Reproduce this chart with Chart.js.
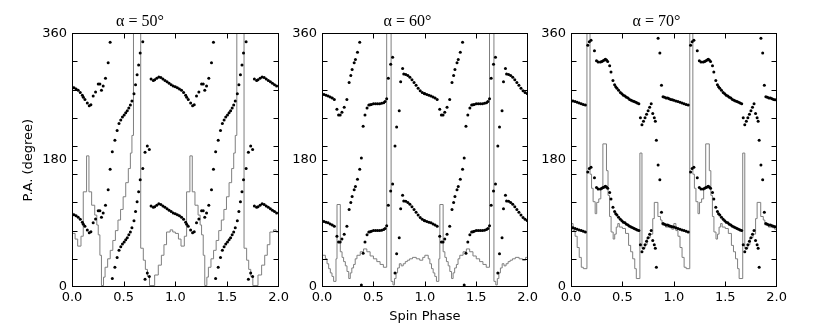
<!DOCTYPE html>
<html>
<head>
<meta charset="utf-8">
<script src="https://cdn.jsdelivr.net/npm/chart.js@4.4.0/dist/chart.umd.min.js"></script>
<style>
  html, body { margin: 0; padding: 0; background: #fff; }
  #wrap { position: relative; width: 830px; height: 332px; overflow: hidden; }
  canvas { position: absolute; top: 0; }
</style>
</head>
<body>
<div id="wrap">
  <canvas id="c50" width="292" height="332" style="left:0px"></canvas>
  <canvas id="c60" width="255" height="332" style="left:286px"></canvas>
  <canvas id="c70" width="255" height="332" style="left:535px"></canvas>
</div>
<script>
// Un solo periodo (fase 0-1) por panel; PA leido modulo 180
// alpha = 50
const phase50 = [0.00, 0.02, 0.04, 0.06, 0.08, 0.10,
  0.11, 0.125, 0.148, 0.167, 0.183, 0.205, 0.228, 0.254, 0.27, 0.285, 0.302, 0.324, 0.35, 0.369,
  0.39, 0.415, 0.437, 0.455, 0.472, 0.488, 0.505, 0.52, 0.535, 0.55, 0.565, 0.58, 0.60, 0.615, 0.63, 0.645, 0.66, 0.685, 0.707, 0.729, 0.748,
  0.765, 0.787, 0.80, 0.82, 0.84, 0.86, 0.88, 0.90, 0.92, 0.94, 0.96, 0.98];
const pa50 = [104, 102.5, 101, 99, 96, 92,
  89, 86, 81, 77, 78.5, 91, 96.5, 108, 108, 99, 105, 116, 138, 167,
  12, 28, 42, 52, 57, 61, 64, 67, 70, 74, 78, 84, 94, 107, 121, 135, 152, 168, 11, 20, 15,
  115, 113, 114, 116, 118, 117, 115, 113, 111, 109, 107, 105];
const stepPhase50 = [0, 0.03, 0.055, 0.087, 0.109, 0.141, 0.164, 0.19, 0.22, 0.24,
  0.254, 0.27, 0.285, 0.305, 0.32, 0.345, 0.37, 0.395, 0.42, 0.445,
  0.47, 0.495, 0.52, 0.545, 0.565, 0.58, 0.595, 0.665, 0.69, 0.71,
  0.73, 0.75, 0.80, 0.835, 0.865, 0.89, 0.915, 0.95, 0.975];
const stepVal50 = [76, 68, 58, 72, 135, 186, 135, 116, 102, 88,
  74, 45, 2, 14, 28, 40, 52, 66, 80, 95,
  110, 128, 148, 168, 190, 215, 400, 55, 38, 25,
  15, 2, 17, 31, 45, 60, 78, 81, 78];

// alpha = 60
const phase60 = [0.00, 0.02, 0.04, 0.06, 0.08, 0.10, 0.12,
  0.145, 0.161, 0.177, 0.194, 0.216, 0.242, 0.264, 0.28, 0.293, 0.313, 0.325, 0.345, 0.367,
  0.383, 0.40, 0.418, 0.438, 0.455, 0.468, 0.48, 0.50, 0.52, 0.54, 0.56, 0.58, 0.60, 0.613, 0.629,
  0.645, 0.668, 0.687, 0.71, 0.726, 0.751, 0.765, 0.784,
  0.795, 0.815, 0.835, 0.855, 0.875, 0.895, 0.915, 0.935, 0.955, 0.975, 0.995];
const pa60 = [94, 93, 92, 91, 89.5, 88, 86,
  72, 64, 64, 68, 75, 86, 110, 120, 128.5, 138, 142.6, 153, 167,
  3, 48, 64, 74, 78, 78.5, 79, 80, 80, 80, 80, 80.5, 81.5, 83, 87,
  116, 136, 146, 20, 47, 70, 111, 130,
  122, 121.5, 120, 117.5, 114, 110, 106, 102, 98.5, 96, 94.5];
const stepPhase60 = [0, 0.033, 0.049, 0.065, 0.081, 0.097, 0.113, 0.136, 0.146, 0.178,
  0.195, 0.21, 0.227, 0.243, 0.26, 0.275, 0.29, 0.307, 0.323, 0.34,
  0.372, 0.404, 0.436, 0.468, 0.50, 0.533, 0.565, 0.597, 0.629, 0.672,
  0.69, 0.705, 0.72, 0.735, 0.752, 0.77, 0.79, 0.81, 0.83, 0.852,
  0.88, 0.917, 0.95, 0.98];
const stepVal60 = [45, 40, 33, 26, 20, 15, 8, 40, 117, 50,
  42, 36, 30, 22, 12, 20, 27, 32, 40, 45,
  50, 54, 50, 44, 40, 36, 32, 28, 400, 8,
  3, 12, 20, 27, 33, 30, 33, 36, 38, 40,
  42, 40, 38, 42];

// alpha = 70
const phase70 = [0.00, 0.02, 0.04, 0.06, 0.08, 0.10, 0.12, 0.14,
  0.163, 0.178, 0.195,
  0.228, 0.248, 0.264, 0.286, 0.30, 0.312, 0.325, 0.334, 0.345, 0.357, 0.376,
  0.389, 0.408, 0.424, 0.435, 0.447, 0.463, 0.48, 0.495, 0.51, 0.525, 0.54, 0.555, 0.57, 0.585, 0.60, 0.615, 0.63, 0.645, 0.66,
  0.675, 0.69, 0.705, 0.72, 0.735, 0.75, 0.765, 0.78, 0.795, 0.81, 0.82, 0.83, 0.847, 0.864, 0.88, 0.895, 0.91, 0.925, 0.94, 0.955, 0.97, 0.985];
const pa70 = [85, 84, 83, 82, 81, 80, 79, 78,
  163, 168, 170,
  155, 141, 139, 139, 140, 141, 142, 143, 142, 140, 134,
  125, 113, 107, 104, 102, 99, 96, 94, 92, 91, 89, 88, 86, 85, 84, 83, 82, 81, 80,
  60, 50, 55, 60, 65, 70, 75, 80, 66, 60, 55, 28, 173, 152, 106, 90, 89, 88, 88, 87, 86, 85.5];
const stepPhase70 = [0, 0.02, 0.04, 0.06, 0.08, 0.10, 0.12, 0.155, 0.185, 0.20,
  0.215, 0.235, 0.25, 0.27, 0.29, 0.31, 0.345, 0.36, 0.375, 0.39,
  0.41, 0.425, 0.44, 0.455, 0.47, 0.50, 0.53, 0.56, 0.58, 0.60,
  0.62, 0.635, 0.67, 0.69, 0.72, 0.74, 0.77, 0.795, 0.81, 0.845,
  0.87, 0.885, 0.92, 0.96, 0.98];
const stepVal70 = [90, 80, 72, 56, 42, 28, 26, 400, 160, 140,
  121, 104, 120, 125, 140, 203, 165, 130, 100, 78,
  68, 75, 85, 90, 85, 83, 76, 59, 50, 40,
  26, 12, 190, 55, 60, 70, 75, 97, 120, 100,
  95, 88, 85, 84, 82];

const xTickMarks = [0.5, 1.0, 1.5];
const yTickMarks = [40, 80, 120, 160, 180, 200, 240, 280, 320];

// Se dibuja dos periodos y cada PA tambien en PA+180
function dotPoints(phase, pa) {
  const pts = [];
  [0, 1].forEach(k => phase.forEach((p, i) => {
    pts.push({ x: p + k, y: pa[i] });
    pts.push({ x: p + k, y: pa[i] + 180 });
  }));
  return pts;
}

function stepPoints(phase, val) {
  const pts = [];
  [0, 1].forEach(k => phase.forEach((p, i) => pts.push({ x: p + k, y: val[i] })));
  pts.push({ x: 2, y: val[val.length - 1] });
  return pts;
}

// Marco negro y ticks hacia adentro
const frameTicks = {
  id: 'frameTicks',
  afterDatasetsDraw(chart) {
    const { ctx, chartArea: a, scales: { x, y } } = chart;
    const L = Math.round(a.left) + 0.5, R = Math.round(a.right) - 0.5;
    const T = Math.round(a.top) + 0.5, B = Math.round(a.bottom) - 0.5;
    ctx.save();
    ctx.strokeStyle = '#000';
    ctx.lineWidth = 1;
    ctx.beginPath();
    xTickMarks.forEach(v => {
      const px = Math.round(x.getPixelForValue(v)) + 0.5;
      ctx.moveTo(px, B); ctx.lineTo(px, B - 5);
      ctx.moveTo(px, T); ctx.lineTo(px, T + 5);
    });
    yTickMarks.forEach(v => {
      const py = Math.round(y.getPixelForValue(v)) + 0.5;
      ctx.moveTo(L, py); ctx.lineTo(L + 5, py);
      ctx.moveTo(R, py); ctx.lineTo(R - 5, py);
    });
    ctx.stroke();
    ctx.strokeRect(L, T, R - L, B - T);
    ctx.restore();
  }
};

const tickFont = { family: 'DejaVu Sans', size: 13 };

function makeChart(id, title, phase, pa, stepPhase, stepVal, yWidth, yTitle, xTitle) {
  return new Chart(document.getElementById(id), {
    type: 'scatter',
    data: {
      datasets: [
        {
          data: dotPoints(phase, pa),
          pointRadius: 1.5,
          pointBackgroundColor: '#000',
          pointBorderWidth: 0,
          showLine: false
        },
        {
          type: 'line',
          data: stepPoints(stepPhase, stepVal),
          stepped: 'before',
          borderColor: '#7f7f7f',
          borderWidth: 1,
          pointRadius: 0,
          fill: false
        }
      ]
    },
    options: {
      responsive: false,
      animation: false,
      layout: { padding: { left: 0, right: 12, top: 0, bottom: 0 } },
      plugins: {
        legend: { display: false },
        tooltip: { enabled: false },
        title: {
          display: true,
          text: title,
          color: '#000',
          font: { family: 'Liberation Serif', size: 16, weight: 'normal' },
          padding: { top: 12, bottom: 2 }
        }
      },
      scales: {
        x: {
          type: 'linear',
          min: 0, max: 2,
          grid: { display: false, drawTicks: false },
          border: { display: false },
          ticks: { stepSize: 0.5, color: '#000', font: tickFont, padding: 3, maxRotation: 0,
                   callback: v => v.toFixed(1) },
          title: { display: !!xTitle, text: xTitle || '', color: '#000', font: tickFont,
                   padding: { top: 0, bottom: 8 } },
          afterFit: s => { s.height = 45; }
        },
        y: {
          min: 0, max: 360,
          grid: { display: false, drawTicks: false },
          border: { display: false },
          ticks: { stepSize: 180, color: '#000', font: tickFont, padding: 5 },
          title: { display: !!yTitle, text: yTitle || '', color: '#000', font: tickFont,
                   padding: { top: 21, bottom: 0 } },
          afterFit: s => { s.width = yWidth; }
        }
      }
    },
    plugins: [frameTicks]
  });
}

makeChart('c50', 'α = 50°', phase50, pa50, stepPhase50, stepVal50, 72, 'P.A. (degree)', null);
makeChart('c60', 'α = 60°', phase60, pa60, stepPhase60, stepVal60, 36, null, 'Spin Phase');
makeChart('c70', 'α = 70°', phase70, pa70, stepPhase70, stepVal70, 36, null, null);
</script>
</body>
</html>
